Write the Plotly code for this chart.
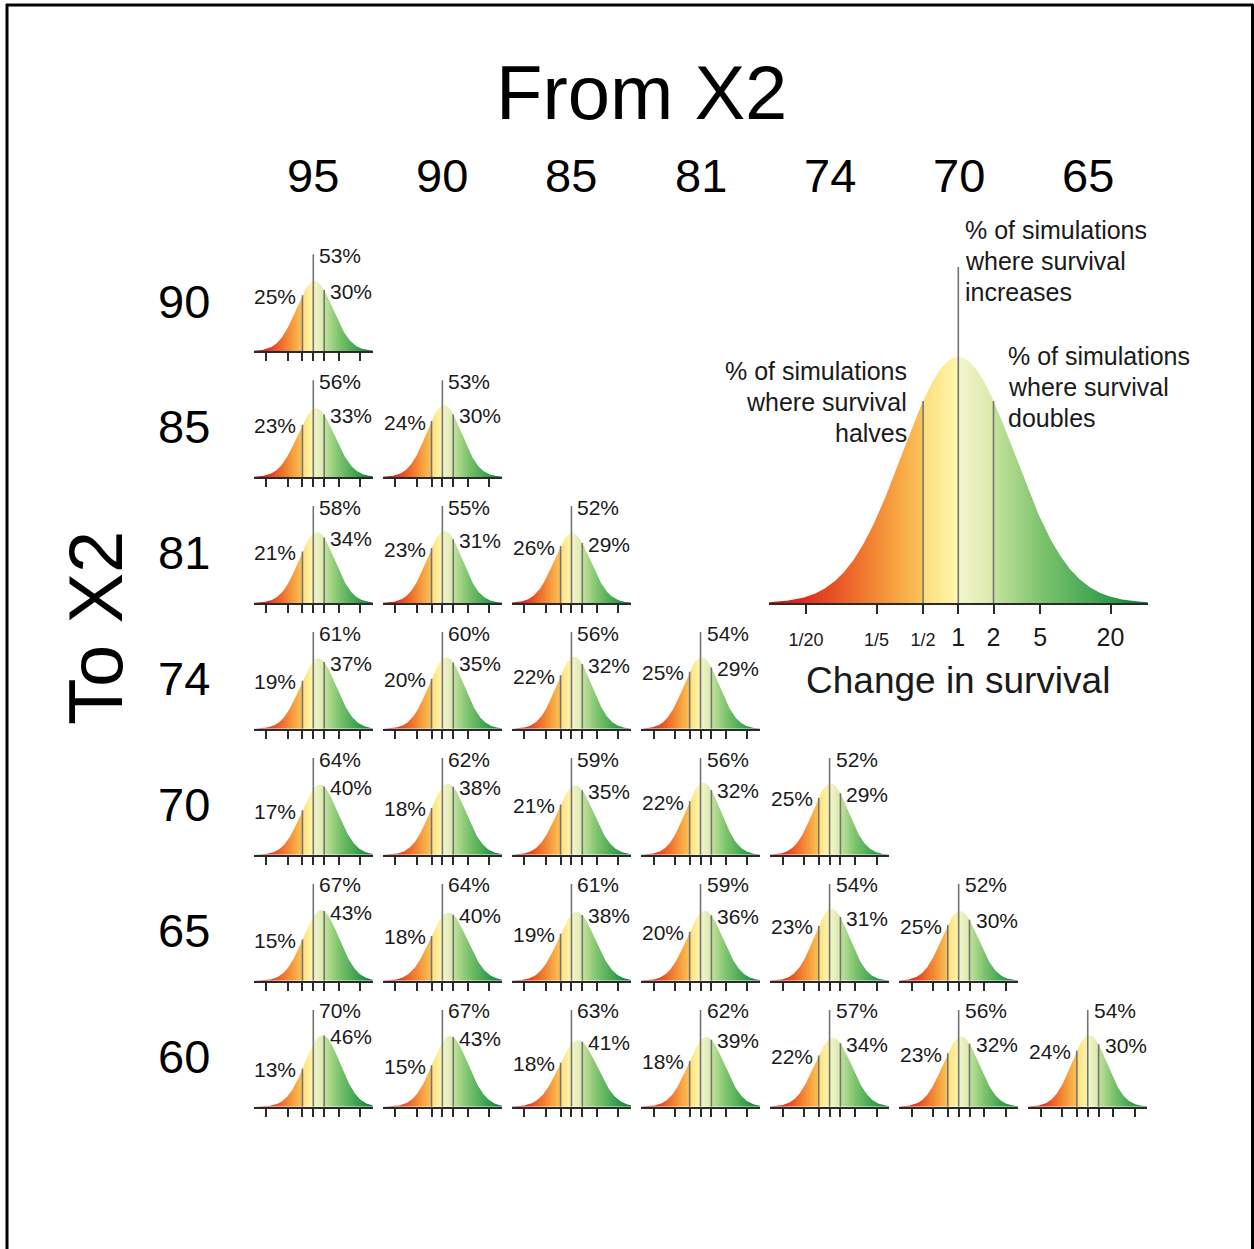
import numpy as np
import plotly.graph_objects as go
from statistics import NormalDist

# ---------------- data ----------------
from_x2 = [95, 90, 85, 81, 74, 70, 65]      # columns
to_x2 = [90, 85, 81, 74, 70, 65, 60]        # rows

pct_halves = [
    [25],
    [23, 24],
    [21, 23, 26],
    [19, 20, 22, 25],
    [17, 18, 21, 22, 25],
    [15, 18, 19, 20, 23, 25],
    [13, 15, 18, 18, 22, 23, 24],
]
pct_increase = [
    [53],
    [56, 53],
    [58, 55, 52],
    [61, 60, 56, 54],
    [64, 62, 59, 56, 52],
    [67, 64, 61, 59, 54, 52],
    [70, 67, 63, 62, 57, 56, 54],
]
pct_doubles = [
    [30],
    [33, 30],
    [34, 31, 29],
    [37, 35, 32, 29],
    [40, 38, 35, 32, 29],
    [43, 40, 38, 36, 31, 30],
    [46, 43, 41, 39, 34, 32, 30],
]

tick_vals = [1/20, 1/5, 1/2, 1, 2, 5, 20]
tick_labels = ["1/20", "1/5", "1/2", "1", "2", "5", "20"]
legend_mu, legend_sigma = 0.0, 0.48   # illustrative legend curve (log10 units)

# ---------------- layout constants ----------------
W, H = 1254, 1249
FONT = "Liberation Sans, Arial, Helvetica, sans-serif"
COL0, COLSTEP = 313.3, 129.07
ROW0, ROWSTEP = 351.0, 125.95
XPX, XR = 36.1, 1.65        # px per log10 unit, half range
YPX, YTOP = 88.0, 100.0     # px per pdf unit, panel height px
CENTER_TOP = 1.10
LXC, LXPX, LXR = 958.3, 117.0, 1.62
LBASE, LTOP_PX, LYPX = 603.0, 340.0, 296.0
LCENTER_TOP = 336.0 / LYPX

GRAD = [(-1.65, "#c2121e"), (-1.3, "#df2f1f"), (-0.9, "#ee6a2b"), (-0.55, "#f6a03f"),
        (-0.303, "#fbc457"), (-0.299, "#fdde7c"), (-0.005, "#fff7ab"), (0.005, "#f4f6cd"),
        (0.299, "#d8e9ab"), (0.303, "#c4e39d"), (0.7, "#7fc46e"), (1.3, "#2f9c4b"),
        (1.65, "#17723a")]
GS, GE = GRAD[0][0], GRAD[-1][0]
colorscale = [[(v - GS) / (GE - GS), c] for v, c in GRAD]

LINEC = "#737373"
AXC = "#2a2a2a"
TXT = "#1a1a1a"

tick_log = [float(np.log10(t)) for t in tick_vals]
nd = NormalDist()


def pdf(x, mu, s):
    return np.exp(-0.5 * ((x - mu) / s) ** 2) / (s * np.sqrt(2 * np.pi))


fig = go.Figure()
layout = dict()
annotations = []
idx = [0]


def new_axes(xdom, ydom, xr, yr, ticklen, tickw, showlabels=False, ticktext=None, tickfont=None):
    idx[0] += 1
    n = idx[0]
    xs = "" if n == 1 else str(n)
    layout["xaxis" + xs] = dict(
        domain=xdom, range=xr, anchor="y" + xs, showgrid=False, zeroline=False,
        showline=True, linecolor=AXC, linewidth=1.6, ticks="outside", ticklen=ticklen,
        tickwidth=tickw, tickcolor=AXC, tickmode="array", tickvals=tick_log,
        ticktext=ticktext if ticktext else tick_labels, showticklabels=showlabels,
        tickfont=tickfont, fixedrange=True)
    layout["yaxis" + xs] = dict(
        domain=ydom, range=yr, anchor="x" + xs, visible=False, fixedrange=True)
    return "x" + xs, "y" + xs


def draw_curve(xa, ya, mu, s, xr, center_top, lw):
    xs = np.linspace(xr[0], xr[1], 400)
    fig.add_trace(go.Scatter(
        x=xs, y=pdf(xs, mu, s), mode="lines", line=dict(width=0, color="rgba(0,0,0,0)"),
        fill="tozeroy",
        fillgradient=dict(type="horizontal", colorscale=colorscale, start=GS, stop=GE),
        xaxis=xa, yaxis=ya, hoverinfo="skip", showlegend=False))
    h_half = float(pdf(np.log10(0.5), mu, s))
    h_dbl = float(pdf(np.log10(2), mu, s))
    for xv, top in [(np.log10(0.5), h_half), (0.0, center_top), (np.log10(2), h_dbl)]:
        fig.add_trace(go.Scatter(
            x=[xv, xv], y=[0, top], mode="lines", line=dict(color=LINEC, width=lw),
            xaxis=xa, yaxis=ya, hoverinfo="skip", showlegend=False))
    return h_half, h_dbl


# ---------------- small panels ----------------
for r, row_lab in enumerate(to_x2):
    for c in range(len(pct_halves[r])):
        ph, pi, pdb = pct_halves[r][c], pct_increase[r][c], pct_doubles[r][c]
        z1 = nd.inv_cdf(ph / 100)
        z2 = nd.inv_cdf(1 - pdb / 100)
        s = (2 * np.log10(2)) / (z2 - z1)
        mu = np.log10(2) - z2 * s
        cx = COL0 + COLSTEP * c
        base = ROW0 + ROWSTEP * r
        xdom = [(cx - XR * XPX) / W, (cx + XR * XPX) / W]
        ydom = [1 - base / H, 1 - (base - YTOP) / H]
        xa, ya = new_axes(xdom, ydom, [-XR, XR], [0, YTOP / YPX], 8, 1.6)
        hh, hd = draw_curve(xa, ya, mu, s, [-XR, XR], CENTER_TOP, 1.6)
        f = dict(family=FONT, size=21, color=TXT)
        annotations += [
            dict(x=0, y=CENTER_TOP, xref=xa, yref=ya, text=f"{pi}%", showarrow=False,
                 xanchor="left", yanchor="middle", xshift=4, yshift=-1, font=f),
            dict(x=np.log10(0.5), y=hh, xref=xa, yref=ya, text=f"{ph}%", showarrow=False,
                 xanchor="right", yanchor="middle", xshift=-4, yshift=-1, font=f),
            dict(x=np.log10(2), y=hd, xref=xa, yref=ya, text=f"{pdb}%", showarrow=False,
                 xanchor="left", yanchor="middle", xshift=4, yshift=-1, font=f),
        ]

# ---------------- legend panel ----------------
lt = []
for t in tick_labels:
    if "/" in t:
        lt.append(f'<span style="font-size:18px">{t}</span>')
    else:
        lt.append(t)
xa, ya = new_axes([(LXC - LXR * LXPX) / W, (LXC + LXR * LXPX) / W],
                  [1 - LBASE / H, 1 - (LBASE - LTOP_PX) / H],
                  [-LXR, LXR], [0, LTOP_PX / LYPX], 9, 2, showlabels=True, ticktext=lt,
                  tickfont=dict(family=FONT, size=25, color=TXT))
layout["xaxis" + xa[1:]]["ticklabelstandoff"] = 2
draw_curve(xa, ya, legend_mu, legend_sigma, [-LXR, LXR], LCENTER_TOP, 1.6)

lf = dict(family=FONT, size=25, color=TXT)


def text_block(lines, xpx, y0px, anchor):
    for i, t in enumerate(lines):
        annotations.append(dict(x=xpx / W, y=1 - (y0px + 31 * i) / H, xref="paper", yref="paper",
                                text=t, showarrow=False, xanchor=anchor, yanchor="middle",
                                font=lf))


text_block(["% of simulations", "where survival", "increases"], 963, 230, "left")
text_block(["% of simulations", "where survival", "halves"], 909, 371, "right")
text_block(["% of simulations", "where survival", "doubles"], 1006, 356, "left")
annotations.append(dict(x=958 / W, y=1 - 681 / H, xref="paper", yref="paper",
                        text="Change in survival", showarrow=False, xanchor="center",
                        yanchor="middle", font=dict(family=FONT, size=37, color=TXT)))

# ---------------- titles and row/column labels ----------------
annotations.append(dict(x=641 / W, y=1 - 92 / H, xref="paper", yref="paper", text="From X2",
                        showarrow=False, xanchor="center", yanchor="middle",
                        font=dict(family=FONT, size=76, color="#000")))
annotations.append(dict(x=95 / W, y=1 - 628 / H, xref="paper", yref="paper", text="To X2",
                        showarrow=False, xanchor="center", yanchor="middle", textangle=-90,
                        font=dict(family=FONT, size=76, color="#000")))
for c, lab in enumerate(from_x2):
    annotations.append(dict(x=(COL0 + COLSTEP * c) / W, y=1 - 175 / H, xref="paper",
                            yref="paper", text=str(lab), showarrow=False, xanchor="center",
                            yanchor="middle", font=dict(family=FONT, size=47, color="#000")))
for r, lab in enumerate(to_x2):
    annotations.append(dict(x=184 / W, y=1 - (ROW0 + ROWSTEP * r - 50) / H, xref="paper",
                            yref="paper", text=str(lab), showarrow=False, xanchor="center",
                            yanchor="middle", font=dict(family=FONT, size=47, color="#000")))

# frame
shapes = [
    dict(type="line", xref="paper", yref="paper", x0=6 / W, x1=1253 / W, y0=1 - 5 / H,
         y1=1 - 5 / H, line=dict(color="#000", width=3)),
    dict(type="line", xref="paper", yref="paper", x0=7 / W, x1=7 / W, y0=1 - 4 / H,
         y1=-0.01, line=dict(color="#000", width=3)),
    dict(type="line", xref="paper", yref="paper", x0=1252.5 / W, x1=1252.5 / W, y0=1 - 4 / H,
         y1=-0.01, line=dict(color="#000", width=3)),
]

fig.update_layout(**layout)
fig.update_layout(width=W, height=H, autosize=False, margin=dict(l=0, r=0, t=0, b=0),
                  paper_bgcolor="white", plot_bgcolor="rgba(0,0,0,0)",
                  annotations=annotations, shapes=shapes, showlegend=False,
                  font=dict(family=FONT))
fig.write_html("out.html", config={"displayModeBar": False},
               post_script="document.body.style.margin='0px';document.body.style.overflow='hidden';")
